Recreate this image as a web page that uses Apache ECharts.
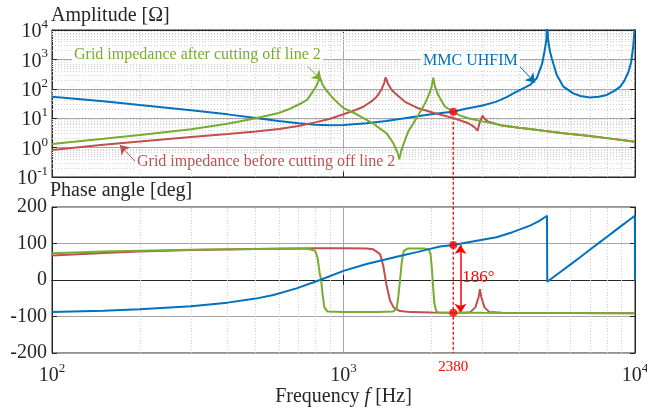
<!DOCTYPE html>
<html>
<head>
<meta charset="utf-8">
<title>Impedance</title>
<script src="https://cdn.jsdelivr.net/npm/echarts@6/dist/echarts.min.js"></script>
<style>
  html, body { margin: 0; padding: 0; background: #fff; }
  #main { width: 647px; height: 409px; }
</style>
</head>
<body>
<div id="main"></div>
<script>
// amplitude [ohm], [f(Hz), |Z|]
var ampMMC = [[100,54],[150,38],[200,28],[300,18.5],[400,13.5],[500,10.2],[600,8],[700,6.7],[800,6.0],[900,5.8],[1000,5.9],[1200,6.7],[1400,8.1],[1600,9.8],[1800,11.7],[2000,13.6],[2200,15.2],[2380,16.6],[2600,20.5],[3000,27],[3330,36],[3600,50],[3830,70],[4100,100],[4365,135],[4600,228],[4800,700],[4900,2000],[4970,5000],[4995,40000],[5005,40000],[5030,5000],[5100,2000],[5180,1090],[5390,294],[5680,118],[6140,70],[6500,57],[7000,51],[7500,54],[8000,62],[8500,85],[8900,118],[9200,190],[9500,380],[9700,800],[9870,3000],[9950,9000],[10000,40000]];
var ampAfter = [[100,1.32],[150,2.0],[200,2.7],[300,4.2],[400,6.5],[500,10],[600,15],[655,21],[710,31],[750,42],[790,88],[810,135],[830,240],[850,130],[880,80],[922,47],[1000,22],[1110,13.6],[1265,6.5],[1406,3.06],[1483,1.4],[1530,0.7],[1552,0.4],[1580,0.8],[1625,1.8],[1667,3.5],[1807,12.9],[1905,32],[1983,80],[2010,130],[2032,240],[2060,120],[2113,61],[2228,24.5],[2380,16.6],[2500,12.5],[2700,9.8],[3000,7.8],[3300,6.5],[3500,5.6],[4000,4.7],[4500,4.1],[5000,3.6],[5675,3.06],[6500,2.7],[7000,2.48],[8000,2.1],[9000,1.8],[10000,1.59]];
var ampBefore = [[100,0.83],[150,1.25],[200,1.6],[300,2.3],[400,2.9],[500,3.5],[600,4.3],[700,5.4],[800,7.2],[900,9.6],[1000,13.6],[1100,19],[1170,24.5],[1250,38],[1300,54],[1350,95],[1380,160],[1395,245],[1420,150],[1460,95],[1503,70],[1625,36],[1807,21.7],[2060,14.7],[2380,10.2],[2680,6.7],[2800,5.2],[2884,3.76],[2930,7],[2998,12.2],[3050,9.5],[3140,7.6],[3300,6.6],[3500,5.6],[4000,4.7],[4500,4.1],[5000,3.6],[5675,3.06],[6500,2.7],[7000,2.48],[8000,2.1],[9000,1.8],[10000,1.59]];

// phase angle [deg]
var phMMC = [[100,-88],[150,-84],[200,-80],[300,-72],[400,-62],[500,-51],[575,-41],[690,-23],[830,0],[1000,25],[1200,44],[1370,55],[1560,66],[1800,77],[2000,86],[2143,92],[2380,96],[2800,106],[3350,117],[3800,131],[4365,149],[4700,162],[4990,176],[5000,-5],[5500,20],[6000,42],[6500,63],[7000,83],[7500,101],[8000,118],[8500,134],[9000,149],[9500,163],[9990,176],[10000,-2]];
var phAfter = [[100,73],[150,78],[200,80],[300,83],[500,85],[700,86],[760,85],[800,80],[815,60],[828,20],[838,0],[848,-40],[860,-75],[880,-86],[1000,-88],[1300,-88],[1480,-86],[1520,-80],[1540,-50],[1563,0],[1585,50],[1610,80],[1660,86],[1900,86],[1960,84],[1990,70],[2010,30],[2030,-20],[2050,-65],[2080,-85],[2120,-89],[3000,-90],[10000,-91]];
var phBefore = [[100,67],[150,74],[200,78],[300,82],[500,85],[800,87],[1000,87],[1200,86],[1265,84],[1335,71],[1369,39],[1406,-16],[1445,-57],[1485,-75],[1563,-85],[1700,-88],[2000,-89],[2600,-90],[2721,-88],[2834,-75],[2911,-45],[2938,-25],[2966,-45],[3045,-75],[3166,-88],[3500,-90],[10000,-91]];

// marked frequency
var markFreq = 2380;
var dotAmp = [[2380,16.6]];
var dotPhase = [[2380,96],[2380,-90]];
var phaseGap = 186;

// minor grid positions
var minorFreq = [200,300,400,500,600,700,800,900,2000,3000,4000,5000,6000,7000,8000,9000];
var minorAmp = [0.2,0.3,0.4,0.5,0.6,0.7,0.8,0.9,2,3,4,5,6,7,8,9,20,30,40,50,60,70,80,90,200,300,400,500,600,700,800,900,2000,3000,4000,5000,6000,7000,8000,9000];

var font = 'Liberation Serif';
var axisCol = '#262626';
var cBlue = '#0072bd', cGreen = '#77ac30', cRed = '#c0504d', cMark = '#ff0000';

function supLabel(v) {
    var e = Math.round(Math.log(v) / Math.LN10);
    return '{b|10}{s|' + e + '}';
}
var supRich = {
    b: { fontSize: 20, fontFamily: font, color: axisCol, lineHeight: 24, verticalAlign: 'bottom' },
    s: { fontSize: 13, fontFamily: font, color: axisCol, verticalAlign: 'top' }
};

function tickAxis(type, grid, pos, min, max, extra) {
    var a = {
        type: type, gridIndex: grid, position: pos, min: min, max: max,
        axisLabel: { show: false },
        axisLine: { lineStyle: { color: axisCol } },
        axisTick: { inside: true, length: 5, lineStyle: { color: axisCol } },
        splitLine: { show: false }
    };
    for (var k in extra) a[k] = extra[k];
    return a;
}

var gridLine = { show: true, lineStyle: { color: '#a6a6a6', width: 1 } };
var minorStyle = { color: '#cfcfcf', type: [1, 2], width: 1 };

var option = {
    animation: false,
    backgroundColor: '#fff',
    textStyle: { fontFamily: font },
    grid: [
        { left: 52, right: 12, top: 30, height: 147, show: true, borderColor: axisCol, borderWidth: 1, outerBoundsMode: 'none', containLabel: false },
        { left: 52, right: 12, top: 207, height: 146, show: true, borderColor: axisCol, borderWidth: 1, outerBoundsMode: 'none', containLabel: false }
    ],
    xAxis: [
        tickAxis('log', 0, 'bottom', 100, 10000, { splitLine: gridLine }),
        tickAxis('log', 1, 'bottom', 100, 10000, {
            splitLine: gridLine,
            axisLabel: { show: true, formatter: supLabel, rich: supRich, margin: 9 },
            name: '{n|Frequency }{i|f}{n| [Hz]}',
            nameLocation: 'middle', nameGap: 30,
            nameTextStyle: { rich: {
                n: { fontSize: 20, fontFamily: font, color: axisCol },
                i: { fontSize: 20, fontFamily: font, color: axisCol, fontStyle: 'italic' }
            } }
        }),
        tickAxis('log', 0, 'top', 100, 10000, {}),
        tickAxis('log', 1, 'top', 100, 10000, {})
    ],
    yAxis: [
        tickAxis('log', 0, 'left', 0.1, 10000, {
            splitLine: gridLine,
            axisLabel: { show: true, formatter: supLabel, rich: supRich, margin: 4 }
        }),
        tickAxis('value', 1, 'left', -200, 200, {
            interval: 100, splitLine: gridLine,
            axisLabel: { show: true, fontSize: 20, fontFamily: font, color: axisCol, margin: 5 }
        }),
        tickAxis('log', 0, 'right', 0.1, 10000, {}),
        tickAxis('value', 1, 'right', -200, 200, { interval: 100 })
    ],
    series: [
        { type: 'line', xAxisIndex: 0, yAxisIndex: 0, data: [], z: 1, silent: true,
          markLine: { silent: true, symbol: 'none', animation: false, label: { show: false }, lineStyle: minorStyle,
            data: minorFreq.map(function (f) { return { xAxis: f }; }).concat(minorAmp.map(function (a) { return { yAxis: a }; })) } },
        { type: 'line', xAxisIndex: 1, yAxisIndex: 1, data: [], z: 1, silent: true,
          markLine: { silent: true, symbol: 'none', animation: false, label: { show: false }, lineStyle: minorStyle,
            data: minorFreq.map(function (f) { return { xAxis: f }; }) } },

        { name: 'MMC UHFIM', type: 'line', xAxisIndex: 0, yAxisIndex: 0, data: ampMMC, showSymbol: false, z: 5, lineStyle: { color: cBlue, width: 2 } },
        { name: 'before', type: 'line', xAxisIndex: 0, yAxisIndex: 0, data: ampBefore, showSymbol: false, z: 5, lineStyle: { color: cRed, width: 2 } },
        { name: 'after', type: 'line', xAxisIndex: 0, yAxisIndex: 0, data: ampAfter, showSymbol: false, z: 5, lineStyle: { color: cGreen, width: 2 } },

        { name: 'before', type: 'line', xAxisIndex: 1, yAxisIndex: 1, data: phBefore, showSymbol: false, z: 5, lineStyle: { color: cRed, width: 2 } },
        { name: 'after', type: 'line', xAxisIndex: 1, yAxisIndex: 1, data: phAfter, showSymbol: false, z: 5, lineStyle: { color: cGreen, width: 2 } },
        { name: 'MMC UHFIM', type: 'line', xAxisIndex: 1, yAxisIndex: 1, data: phMMC, showSymbol: false, z: 5, lineStyle: { color: cBlue, width: 2 } },

        { type: 'scatter', xAxisIndex: 0, yAxisIndex: 0, data: dotAmp, symbolSize: 8, z: 8, itemStyle: { color: cMark }, silent: true,
          markLine: { silent: true, animation: false, symbol: 'none', symbolSize: 9, label: { show: false },
            data: [
                [{ coord: [755, 565], lineStyle: { color: cGreen, width: 1, type: 'solid' } }, { coord: [840, 200], symbol: 'arrow' }],
                [{ coord: [195, 0.3], lineStyle: { color: cRed, width: 1, type: 'solid' } }, { coord: [171, 1.22], symbol: 'arrow' }],
                [{ coord: [4032, 565], lineStyle: { color: cBlue, width: 1, type: 'solid' } }, { coord: [4540, 161], symbol: 'arrow' }]
            ] } },
        { type: 'scatter', xAxisIndex: 1, yAxisIndex: 1, data: dotPhase, symbolSize: 8, z: 8, itemStyle: { color: cMark }, silent: true,
          markLine: { silent: true, animation: false, symbol: 'arrow', symbolSize: 9, label: { show: false },
            lineStyle: { color: cMark, type: 'solid', width: 1.5 },
            data: [[{ coord: [2520, dotPhase[0][1]] }, { coord: [2520, dotPhase[1][1]] }]] } }
    ]
};

var chart = echarts.init(document.getElementById('main'));
chart.setOption(option);

// dashed marker line at the crossing frequency, from the amplitude dot down to the phase axis
var px = chart.convertToPixel({ xAxisIndex: 1 }, markFreq);
var yDot = chart.convertToPixel({ yAxisIndex: 0 }, dotAmp[0][1]);
var yEnd = chart.convertToPixel({ yAxisIndex: 1 }, -200);
var yLab = chart.convertToPixel({ yAxisIndex: 1 }, 0);

function txt(s, x, y, color, size, bg, align) {
    var st = { text: s, x: x, y: y, fill: color, fontSize: size, fontFamily: font, verticalAlign: 'middle', align: align || 'left' };
    if (bg) { st.backgroundColor = '#fff'; st.padding = [0, 2]; }
    return { type: 'text', z: 20, silent: true, style: st };
}

chart.setOption({
    graphic: [
        { type: 'line', z: 4, silent: true, shape: { x1: px, y1: yDot, x2: px, y2: yEnd },
          style: { stroke: cMark, lineWidth: 1.3, lineDash: [3, 2] } },
        txt('Amplitude [Ω]', 51, 16, axisCol, 20),
        txt('Phase angle [deg]', 50, 191, axisCol, 20),
        txt('Grid impedance after cutting off line 2', 72, 55, cGreen, 16, true),
        txt('Grid impedance before cutting off line 2', 135, 162, cRed, 16, true),
        txt('MMC UHFIM', 421, 61, cBlue, 16, true),
        txt(phaseGap + '°', px + 9, yLab - 2, cMark, 17),
        txt(String(markFreq), px, yEnd + 14, cMark, 15, false, 'center')
    ]
});
</script>
</body>
</html>
